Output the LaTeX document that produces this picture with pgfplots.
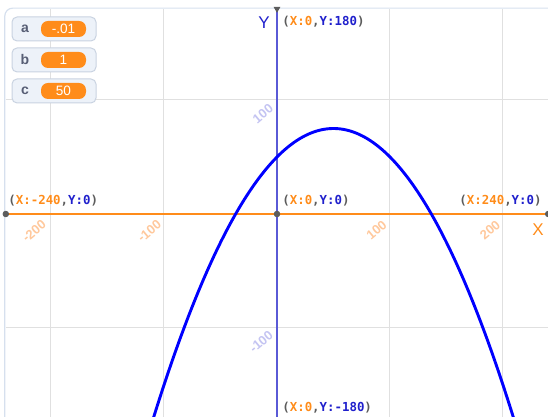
\documentclass[border=0pt]{standalone}
\usepackage{pgfplots}
\pgfplotsset{compat=1.18}
\usepackage{fontspec}
\setmainfont{Liberation Sans}
\newfontfamily\monofont{DejaVu Sans Mono}

\definecolor{scorange}{HTML}{FF8C1A}
\definecolor{scblue}{HTML}{2020CC}
\definecolor{yaxisc}{HTML}{5A5AD6}
\definecolor{gridc}{HTML}{E0E0E0}
\definecolor{labgray}{HTML}{5C5C5C}
\definecolor{xtickc}{HTML}{FFC89C}
\definecolor{ytickc}{HTML}{C4C4F2}
\definecolor{monfill}{HTML}{EDF2F9}
\definecolor{monedge}{HTML}{C9D3E1}
\definecolor{montext}{HTML}{575E75}
\definecolor{stageedge}{HTML}{D6E0EE}

\newcommand{\coordlab}[2]{{\monofont\bfseries\fontsize{6.2}{7}\selectfont
  \textcolor{labgray}{(}\textcolor{scorange}{X:#1}\textcolor{labgray}{,}\textcolor{scblue}{Y:#2}\textcolor{labgray}{)}}}

\begin{document}
\begin{tikzpicture}
\begin{axis}[
    x=0.565pt, y=0.57pt,
    xmin=-240, xmax=240, ymin=-180, ymax=180,
    hide axis,
    clip=false,
]
% pixel frame of the picture: px -> x=(px-277)/1.13, py -> y=(214-py)/1.14
\coordinate (pxorigin) at (axis cs:-245.13,187.72);

% stage border
\draw[stageedge, line width=0.6pt, rounded corners=4pt]
    (axis cs:-240.9,-200) -- (axis cs:-240.9,180.6) -- (axis cs:245,180.6);

% grid
\addplot[gridc, line width=0.5pt, forget plot] coordinates {(-200,-180)(-200,180)};
\addplot[gridc, line width=0.5pt, forget plot] coordinates {(-100,-180)(-100,180)};
\addplot[gridc, line width=0.5pt, forget plot] coordinates {(100,-180)(100,180)};
\addplot[gridc, line width=0.5pt, forget plot] coordinates {(200,-180)(200,180)};
\addplot[gridc, line width=0.5pt, forget plot] coordinates {(-240,100)(240,100)};
\addplot[gridc, line width=0.5pt, forget plot] coordinates {(-240,-100)(240,-100)};

% axes
\addplot[scorange, line width=0.6pt, forget plot] coordinates {(-240,0)(240,0)};
\addplot[yaxisc, line width=0.6pt, forget plot] coordinates {(0,-180)(0,180)};

% y = -0.01 x^2 + x + 50
\addplot[blue, line width=1.45pt, smooth, forget plot] coordinates {
(-115,-197.25)(-110,-181)(-105,-165.25)(-100,-150)(-95,-135.25)(-90,-121)
(-85,-107.25)(-80,-94)(-75,-81.25)(-70,-69)(-65,-57.25)(-60,-46)(-55,-35.25)
(-50,-25)(-45,-15.25)(-40,-6)(-35,2.75)(-30,11)(-25,18.75)(-20,26)(-15,32.75)
(-10,39)(-5,44.75)(0,50)(5,54.75)(10,59)(15,62.75)(20,66)(25,68.75)(30,71)
(35,72.75)(40,74)(45,74.75)(50,75)(55,74.75)(60,74)(65,72.75)(70,71)(75,68.75)
(80,66)(85,62.75)(90,59)(95,54.75)(100,50)(105,44.75)(110,39)(115,32.75)
(120,26)(125,18.75)(130,11)(135,2.75)(140,-6)(145,-15.25)(150,-25)(155,-35.25)
(160,-46)(165,-57.25)(170,-69)(175,-81.25)(180,-94)(185,-107.25)(190,-121)
(195,-135.25)(200,-150)(205,-165.25)(210,-181)(215,-197.25)};

% markers
\addplot[only marks, mark=*, mark size=1.4pt, labgray, forget plot]
    coordinates {(-240,0)(0,0)(240,0)};
\addplot[only marks, mark=triangle*, mark size=1.6pt, labgray,
    mark options={rotate=180}, forget plot] coordinates {(0,180)};

% axis names
\node[scorange, font=\fontsize{8.5}{9}\selectfont] at (axis cs:231,-13.5) {X};
\node[scblue, font=\fontsize{8.5}{9}\selectfont] at (axis cs:-11.5,168) {Y};

% tick labels
\begin{scope}[font=\bfseries\fontsize{6.5}{7}\selectfont]
\node[xtickc, rotate=40] at (axis cs:-215,-15) {-200};
\node[xtickc, rotate=40] at (axis cs:-113,-15) {-100};
\node[xtickc, rotate=40] at (axis cs:88,-14) {100};
\node[xtickc, rotate=40] at (axis cs:188.5,-14) {200};
\node[ytickc, rotate=40] at (axis cs:-12.5,88) {100};
\node[ytickc, rotate=40] at (axis cs:-14,-112) {-100};
\end{scope}

% coordinate labels
\node[anchor=west, inner sep=0] at (axis cs:4.4,168.4) {\coordlab{0}{180}};
\node[anchor=west, inner sep=0] at (axis cs:-238,11.4) {\coordlab{-240}{0}};
\node[anchor=west, inner sep=0] at (axis cs:4.4,11.4) {\coordlab{0}{0}};
\node[anchor=east, inner sep=0] at (axis cs:234.5,11.4) {\coordlab{240}{0}};
\node[anchor=west, inner sep=0] at (axis cs:4.4,-170) {\coordlab{0}{-180}};
\end{axis}

% variable monitors, in pixel units of the reference
\begin{scope}[shift={(pxorigin)}, x=0.5pt, y=-0.5pt]
\foreach \t/\v/\nm in {17/-.01/a, 48/1/b, 79/50/c} {
  \draw[monedge, fill=monfill, line width=0.5pt, rounded corners=2.5pt]
      (12,\t) rectangle (96,\t+24);
  \node[montext, font=\bfseries\fontsize{7}{8}\selectfont] at (25,\t+12) {\nm};
  \fill[scorange, rounded corners=3.5pt] (41,\t+4) rectangle (86,\t+20);
  \node[white, font=\fontsize{6.8}{7}\selectfont] at (63.5,\t+12) {\v};
}
\end{scope}

\pgfresetboundingbox
\useasboundingbox (pxorigin) rectangle ++(274pt,-208.5pt);
\end{tikzpicture}
\end{document}
